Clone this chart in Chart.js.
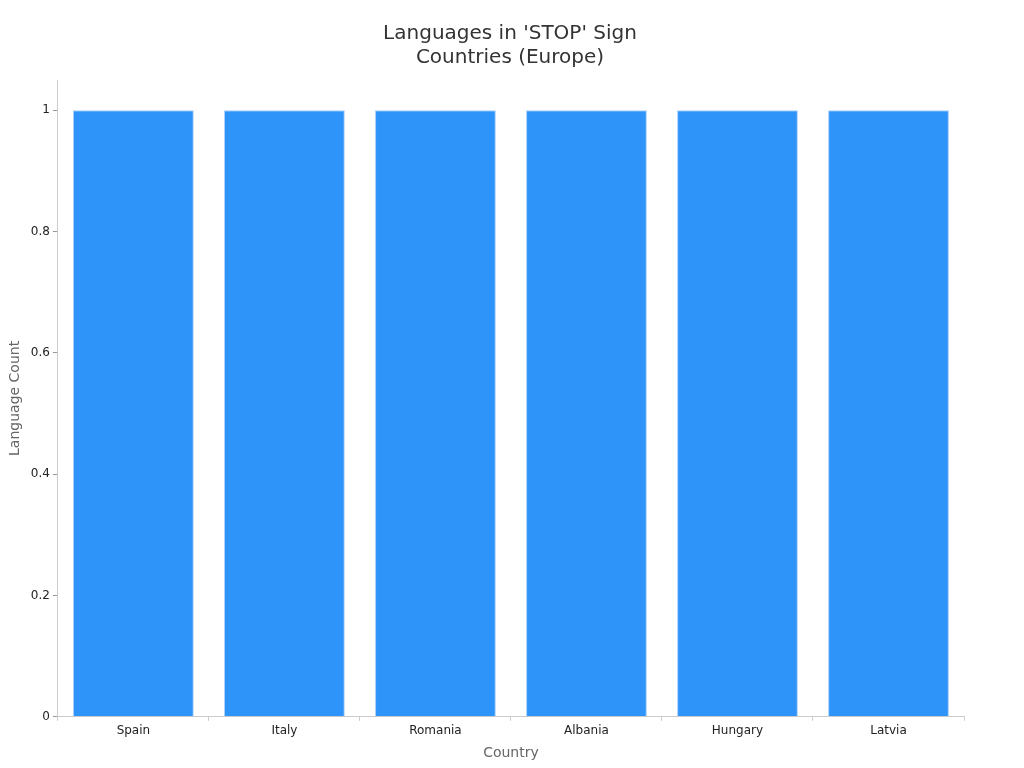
<!DOCTYPE html>
<html><head><meta charset="utf-8">
<script src="https://cdn.jsdelivr.net/npm/chart.js@4/dist/chart.umd.min.js"></script>
<style>html,body{margin:0;padding:0;background:#fff}#w{width:1024px;height:768px}</style>
</head><body><div id="w"><canvas id="c"></canvas></div>
<script>
const categories = ["Spain","Italy","Romania","Albania","Hungary","Latvia"];
const languageCounts = [1,1,1,1,1,1];
const yTicks = [0,0.2,0.4,0.6,0.8,1];
Chart.defaults.font.family = "DejaVu Sans";
new Chart(document.getElementById('c'), {
  type: 'bar',
  data: { labels: categories, datasets: [{ data: languageCounts, backgroundColor: '#2f94f9', borderColor: '#a9d0fb', borderWidth: 1, barPercentage: 0.8, categoryPercentage: 1 }] },
  options: {
    responsive: true, maintainAspectRatio: false, animation: false,
    layout: { padding: { left: 3, right: 7, top: 14, bottom: 2 } },
    plugins: { legend: { display: false }, tooltip: { enabled: false },
      title: { display: true, text: ["Languages in 'STOP' Sign", "Countries (Europe)"], color: '#333', font: { size: 20, weight: 'normal' }, padding: { top: 8, bottom: 10 } } },
    scales: {
      x: { grid: { drawOnChartArea: false, tickLength: 4, color: '#ccc' }, border: { color: '#ccc' }, ticks: { color: '#222', font: { size: 12 } },
           title: { display: true, text: 'Country', color: '#666', font: { size: 14 } } },
      y: { min: 0, max: 1.05, grid: { drawOnChartArea: false, tickLength: 5, color: '#999' }, border: { color: '#ccc' },
           afterBuildTicks: a => { a.ticks = yTicks.map(v => ({ value: v })); },
           ticks: { color: '#222', font: { size: 12 }, callback: v => String(v) },
           title: { display: true, text: 'Language Count', color: '#666', font: { size: 14 } } },
      y2: { position: 'right', display: true, grid: { display: false }, border: { display: false },
            ticks: { display: false }, afterFit: a => { a.width = 53; } }
    }
  }
});
</script></body></html>
